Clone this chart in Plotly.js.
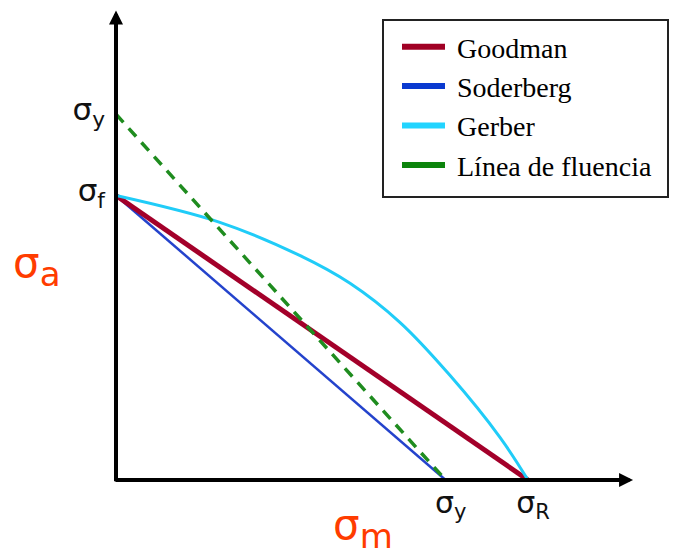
<!DOCTYPE html>
<html><head><meta charset="utf-8">
<script src="https://cdn.plot.ly/plotly-3.0.1.min.js"></script>
<style>html,body{margin:0;padding:0;background:#fff}</style>
</head><body><div id="chart" style="width:686px;height:555px"></div>
<script>
// Abstract stress units: on the σm axis σy = 8, σR = 10; on the σa axis σf = 7, σy = 9
const seriesNames = ['Goodman', 'Soderberg', 'Gerber', 'Línea de fluencia'];
const goodmanX = [0, 10];
const goodmanY = [7, 0];
const soderbergX = [0, 8];
const soderbergY = [7, 0];
const gerberX = [0, 2.52, 4.47, 5.68, 6.89, 8.11, 9.32, 10];
const gerberY = [7, 6.34, 5.52, 4.84, 3.88, 2.57, 1.05, 0];
const fluenciaX = [0, 8];
const fluenciaY = [9, 0];
const xTickVals = [8, 10];
const xTickText = ['σ<sub>y</sub>', 'σ<sub>R</sub>'];
const yTickVals = [7, 9];
const yTickText = ['σ<sub>f</sub>', 'σ<sub>y</sub>'];
const xTitle = 'σ<sub><span style="font-size:34px">m</span></sub>';
const yTitle = 'σ<sub><span style="font-size:34px">a</span></sub>';

const lineColors = ['#a3002a', '#2443cc', '#20ccf8', '#1f8c1f'];
const legendColors = ['#a00024', '#0a3ad0', '#22d4ff', '#0c840c'];
const lineWidths = [5, 2.5, 3, 3.5];

const xs = [goodmanX, soderbergX, gerberX, fluenciaX];
const ys = [goodmanY, soderbergY, gerberY, fluenciaY];
const drawOrder = [1, 0, 2, 3];

const traces = [];
drawOrder.forEach(i => {
  traces.push({
    type: 'scatter', mode: 'lines', x: xs[i], y: ys[i], name: seriesNames[i],
    showlegend: false, hoverinfo: 'skip',
    line: {color: lineColors[i], width: lineWidths[i], shape: i === 2 ? 'spline' : 'linear',
           smoothing: 1, dash: i === 3 ? '11px,8px' : 'solid'}
  });
});
seriesNames.forEach((n, i) => {
  traces.push({
    type: 'scatter', mode: 'lines', x: [null], y: [null], name: '\u00a0' + n,
    showlegend: true, line: {color: legendColors[i], width: 6}
  });
});

const orange = '#ff3c00';
const px = v => (v - 116) / 570;       // pixel column -> paper x
const py = v => (480 - v) / 480;       // pixel row -> paper y
const layout = {
  width: 686, height: 555,
  margin: {l: 116, r: 0, t: 0, b: 75},
  paper_bgcolor: '#fff', plot_bgcolor: '#fff',
  showlegend: true,
  xaxis: {range: [0, 13.835], showgrid: false, zeroline: false, showline: false, ticks: '',
          tickvals: xTickVals, ticktext: xTickText, ticklabelstandoff: 2, ticklabelshift: 5,
          tickfont: {family: 'DejaVu Sans', size: 30, color: '#111'}},
  yaxis: {range: [0, 11.811], showgrid: false, zeroline: false, showline: false, ticks: '',
          tickvals: yTickVals, ticktext: yTickText, ticklabelstandoff: 10, ticklabelshift: -5,
          tickfont: {family: 'DejaVu Sans', size: 31, color: '#111'}},
  legend: {x: px(397), y: py(22), xanchor: 'left', yanchor: 'top', bgcolor: 'rgba(0,0,0,0)',
           borderwidth: 0, itemwidth: 43,
           font: {family: 'Liberation Serif', size: 28, color: '#000'}},
  shapes: [
    {type: 'rect', xref: 'paper', yref: 'paper', x0: px(383), x1: px(668), y0: py(197), y1: py(20),
     line: {color: '#222', width: 2}, fillcolor: '#fff', layer: 'above'}
  ],
  annotations: [
    {x: 12.55, y: 0, ax: -0.05, ay: 0, xref: 'x', yref: 'y', axref: 'x', ayref: 'y',
     text: '', showarrow: true, arrowhead: 2, arrowsize: 0.7, arrowwidth: 4, arrowcolor: '#000'},
    {x: 0, y: 11.55, ax: 0, ay: -0.07, xref: 'x', yref: 'y', axref: 'x', ayref: 'y',
     text: '', showarrow: true, arrowhead: 2, arrowsize: 0.7, arrowwidth: 4, arrowcolor: '#000'},
    {x: px(11), y: py(266), xref: 'paper', yref: 'paper', xanchor: 'left', yanchor: 'middle',
     text: yTitle, showarrow: false, font: {family: 'DejaVu Sans', size: 42, color: orange}},
    {x: px(331), y: py(528), xref: 'paper', yref: 'paper', xanchor: 'left', yanchor: 'middle',
     text: xTitle, showarrow: false, font: {family: 'DejaVu Sans', size: 42, color: orange}}
  ]
};
Plotly.newPlot('chart', traces, layout, {displayModeBar: false, staticPlot: true});
</script></body></html>
